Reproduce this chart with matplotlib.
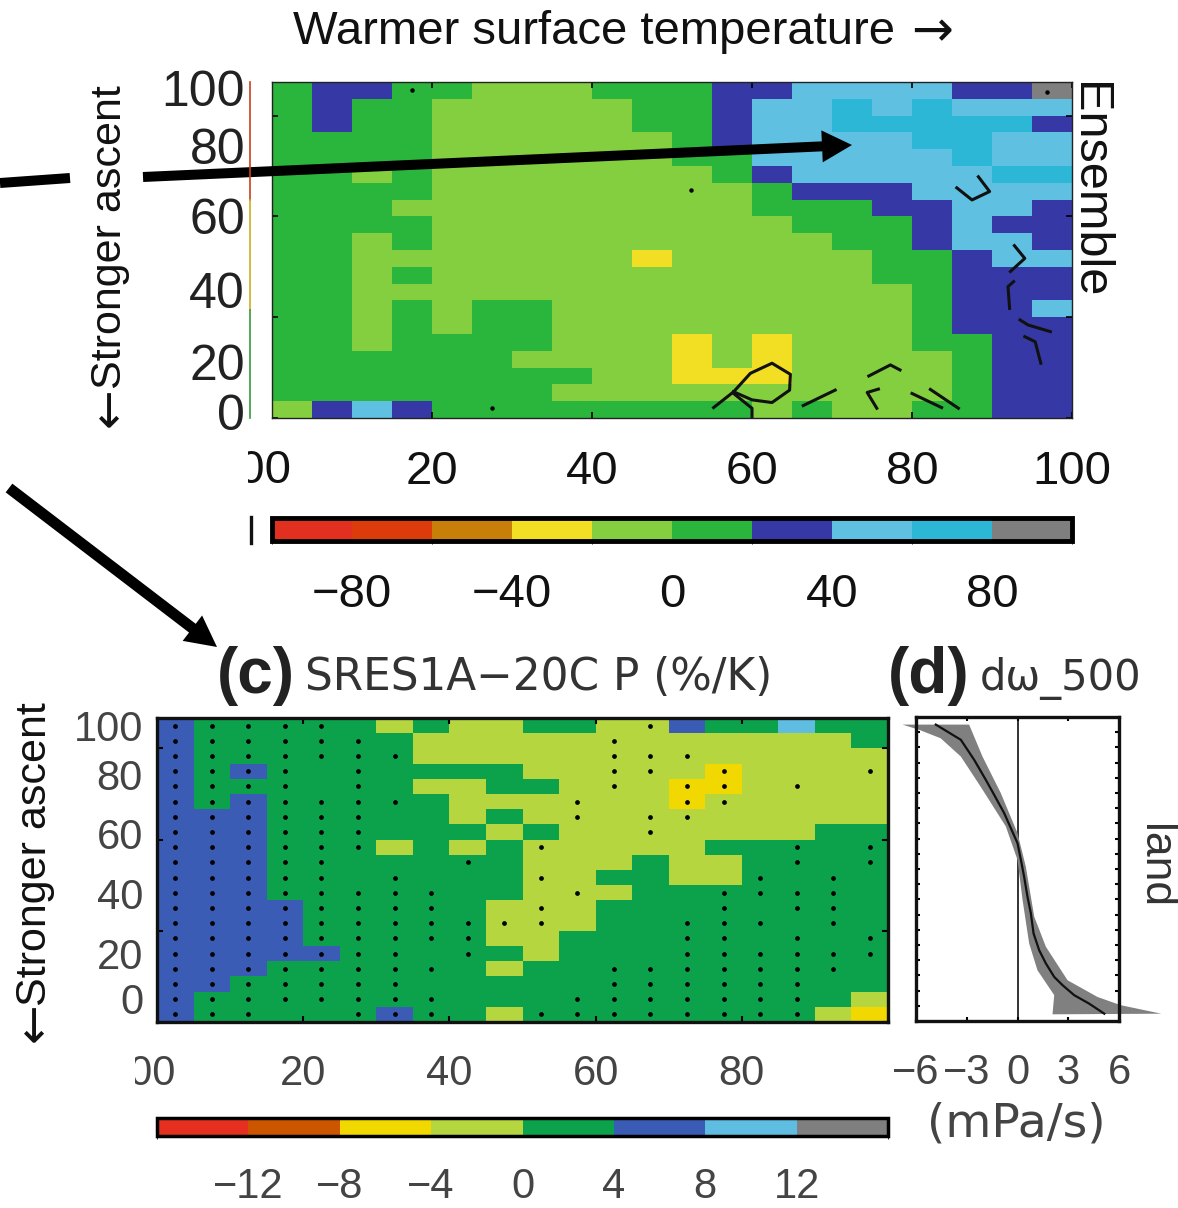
import numpy as np
import matplotlib
matplotlib.use("Agg")
import matplotlib.pyplot as plt
from matplotlib.colors import ListedColormap, BoundaryNorm
from matplotlib.patches import FancyArrow
from matplotlib.transforms import Bbox

plt.rcParams['font.family'] = ['Liberation Sans', 'DejaVu Sans']

# panel b, ensemble change in %, tens of percent (bin centre), top row first
ensemble_rows = [
    [1, 3, 3, 1, 1, -1, -1, -1, 1, 1, 1, 3, 3, 5, 5, 5, 5, 3, 3, 9],
    [1, 3, 1, 1, -1, -1, -1, -1, -1, 1, 1, 3, 5, 5, 7, 5, 7, 5, 5, 5],
    [1, 3, 1, 1, -1, -1, -1, -1, -1, 1, 1, 3, 5, 5, 7, 7, 7, 7, 7, 3],
    [1, 1, 1, 1, -1, -1, -1, -1, -1, -1, 1, 3, 5, 5, 5, 5, 7, 7, 5, 5],
    [1, 1, 1, 1, -1, -1, -1, -1, -1, -1, 1, 1, 5, 5, 5, 5, 5, 7, 5, 5],
    [1, 1, -1, 1, -1, -1, -1, -1, -1, -1, -1, 1, 3, 5, 5, 5, 5, 5, 7, 7],
    [1, 1, 1, 1, -1, -1, -1, -1, -1, -1, -1, -1, 1, 3, 3, 3, 5, 5, 5, 5],
    [1, 1, 1, -1, -1, -1, -1, -1, -1, -1, -1, -1, 1, 1, 1, 3, 3, 5, 5, 3],
    [1, 1, 1, 1, -1, -1, -1, -1, -1, -1, -1, -1, -1, 1, 1, 1, 3, 5, 3, 3],
    [1, 1, -1, 1, -1, -1, -1, -1, -1, -1, -1, -1, -1, -1, 1, 1, 3, 5, 5, 3],
    [1, 1, -1, -1, -1, -1, -1, -1, -1, -3, -1, -1, -1, -1, -1, 1, 1, 3, 5, 5],
    [1, 1, -1, 1, -1, -1, -1, -1, -1, -1, -1, -1, -1, -1, -1, 1, 1, 3, 3, 3],
    [1, 1, -1, -1, -1, -1, -1, -1, -1, -1, -1, -1, -1, -1, -1, -1, 1, 3, 3, 3],
    [1, 1, -1, 1, -1, 1, 1, -1, -1, -1, -1, -1, -1, -1, -1, -1, 1, 3, 3, 5],
    [1, 1, -1, 1, -1, 1, 1, -1, -1, -1, -1, -1, -1, -1, -1, -1, 1, 3, 3, 3],
    [1, 1, -1, 1, 1, 1, 1, -1, -1, -1, -3, -1, -3, -1, -1, -1, 1, 1, 3, 3],
    [1, 1, 1, 1, 1, 1, -1, -1, -1, -1, -3, -1, -3, -1, -1, -1, -1, 1, 3, 3],
    [1, 1, 1, 1, 1, 1, 1, 1, -1, -1, -3, -3, -3, -1, -1, -1, -1, 1, 3, 3],
    [1, 1, 1, 1, 1, 1, 1, -1, -1, -1, -1, -1, -1, -1, -1, -1, -1, 1, 3, 3],
    [-1, 3, 5, 3, 1, 1, 1, 1, 1, 1, 1, 1, -1, 1, -1, -1, 1, 1, 3, 3],
]

# panel c, SRES1A-20C P in %/K (bin centre), top row first
sres_rows = [
    [6, 2, 2, 2, 2, 2, -2, 2, -2, -2, 2, 2, -2, -2, 6, 2, 2, 10, 2, 2],
    [6, 2, 2, 2, 2, 2, 2, -2, -2, -2, -2, -2, -2, -2, -2, -2, -2, -2, -2, 2],
    [6, 2, 2, 2, 2, 2, 2, -2, -2, -2, -2, -2, -2, -2, -2, -2, -2, -2, -2, -2],
    [6, 2, 6, 2, 2, 2, 2, 2, 2, 2, -2, -2, -2, -2, -2, -6, -2, -2, -2, -2],
    [6, 2, 2, 2, 2, 2, 2, -2, -2, 2, 2, -2, -2, -2, -6, -6, -2, -2, -2, -2],
    [6, 2, 6, 2, 2, 2, 2, 2, -2, -2, -2, -2, -2, -2, -6, -2, -2, -2, -2, -2],
    [6, 6, 6, 2, 2, 2, 2, 2, -2, 2, -2, -2, -2, -2, -2, -2, -2, -2, -2, -2],
    [6, 6, 6, 2, 2, 2, 2, 2, 2, -2, 2, -2, -2, -2, -2, -2, -2, -2, 2, 2],
    [6, 6, 6, 2, 2, 2, -2, 2, -2, 2, -2, -2, -2, -2, -2, 2, 2, 2, 2, 2],
    [6, 6, 6, 2, 2, 2, 2, 2, 2, 2, -2, -2, -2, 2, -2, -2, 2, 2, 2, 2],
    [6, 6, 6, 2, 2, 2, 2, 2, 2, 2, -2, -2, 2, 2, -2, -2, 2, 2, 2, 2],
    [6, 6, 6, 2, 2, 2, 2, 2, 2, 2, -2, -2, -2, 2, 2, 2, 2, 2, 2, 2],
    [6, 6, 6, 6, 2, 2, 2, 2, 2, -2, -2, -2, 2, 2, 2, 2, 2, 2, 2, 2],
    [6, 6, 6, 6, 2, 2, 2, 2, 2, -2, -2, -2, 2, 2, 2, 2, 2, 2, 2, 2],
    [6, 6, 6, 6, 2, 2, 2, 2, 2, -2, -2, 2, 2, 2, 2, 2, 2, 2, 2, 2],
    [6, 6, 6, 6, 6, 2, 2, 2, 2, 2, -2, 2, 2, 2, 2, 2, 2, 2, 2, 2],
    [6, 6, 6, 2, 2, 2, 2, 2, 2, -2, 2, 2, 2, 2, 2, 2, 2, 2, 2, 2],
    [6, 6, 2, 2, 2, 2, 2, 2, 2, 2, 2, 2, 2, 2, 2, 2, 2, 2, 2, 2],
    [6, 2, 2, 2, 2, 2, 2, 2, 2, 2, 2, 2, 2, 2, 2, 2, 2, 2, 2, -2],
    [6, 2, 2, 2, 2, 2, 6, 2, 2, -2, 2, 2, 2, 2, 2, 2, 2, 2, -2, -6],
]

# columns with a significance dot, one list per row of panel c
sres_dots = [
    [0, 1, 2, 3, 4, 13],
    [0, 1, 2, 3, 4, 5, 12],
    [0, 1, 2, 3, 4, 5, 6, 12, 13, 14],
    [0, 1, 2, 3, 5, 12, 13, 15, 19],
    [0, 1, 2, 3, 5, 12, 14, 15, 17],
    [0, 1, 2, 3, 4, 5, 6, 11, 14, 15],
    [0, 1, 2, 3, 4, 5, 11, 13, 14],
    [0, 1, 2, 3, 4, 5, 13],
    [0, 1, 2, 3, 4, 5, 10, 17, 19],
    [0, 1, 2, 3, 4, 8, 17, 19],
    [0, 1, 2, 3, 4, 6, 10, 16, 18],
    [0, 1, 2, 3, 4, 5, 6, 7, 11, 15, 16, 17, 18],
    [0, 1, 2, 3, 4, 5, 6, 7, 10, 15, 17, 18],
    [0, 1, 2, 3, 4, 5, 6, 7, 8, 9, 10, 14, 15, 16, 18],
    [0, 1, 2, 3, 4, 5, 6, 7, 8, 14, 15, 17, 19],
    [0, 1, 2, 3, 4, 5, 6, 8, 14, 15, 16, 17, 18, 19],
    [0, 1, 2, 3, 4, 5, 6, 7, 12, 13, 14, 15, 16, 17, 18],
    [0, 1, 2, 3, 4, 5, 6, 12, 13, 14, 15, 16, 17],
    [0, 1, 2, 3, 4, 5, 6, 7, 11, 12, 13, 14, 15, 16, 17],
    [0, 1, 2, 5, 6, 7, 10, 11, 12, 13, 14, 15, 16, 17],
]

# zero contour pieces of panel b (percentile x, percentile y)
contour_x = [
    [55.2, 57.7, 59.8, 62.5, 64.8, 64.7, 62.5, 60.0, 57.7],
    [57.7, 60.0, 60.0],
    [66.4, 70.4],
    [74.6, 77.3, 78.5],
    [75.8, 74.4, 75.6],
    [80.0, 83.7],
    [82.3, 85.8],
    [88.3, 89.7, 87.5, 85.6],
    [92.8, 94.1, 92.3],
    [92.7, 92.0, 92.2],
    [93.5, 94.5, 97.3],
    [94.1, 95.4, 96.1],
]
contour_y = [
    [3.1, 7.8, 13.3, 16.3, 13.0, 8.3, 4.6, 5.4, 7.8],
    [7.3, 2.9, 0.4],
    [3.7, 8.3],
    [12.5, 15.8, 14.3],
    [8.6, 7.6, 2.9],
    [7.3, 3.1],
    [8.5, 2.9],
    [71.8, 67.4, 64.9, 68.5],
    [51.3, 47.5, 43.6],
    [40.6, 39.1, 32.6],
    [29.2, 27.7, 25.7],
    [24.2, 22.7, 16.3],
]
ens_dot_x = [52.4, 96.9, 17.5, 27.5]
ens_dot_y = [67.9, 97.0, 97.6, 3.0]

# panel d, d omega 500 against percentile
omega_pct = [97.5, 92.5, 85.9, 79.3, 74.4, 68.4, 63.4, 58.5, 53.0, 47.5, 40.9,
             35.4, 28.8, 23.3, 18.9, 14.5, 11.8, 8.5, 5.7, 2.4]
omega_mean = [-4.83, -3.35, -2.56, -1.87, -1.38, -0.79, -0.39, 0.0, 0.2, 0.39, 0.59,
              0.79, 0.95, 1.28, 1.68, 2.17, 2.66, 3.35, 4.24, 5.13]
band_x = [-6.8, -2.86, -2.07, -0.99, 0.0, 0.49, 0.99, 1.68, 2.96, 4.73, 6.1, 8.5,
          2.07, 2.17, 1.18, 0.69, 0.3, 0.0, -0.69, -2.17, -3.35, -4.54, -5.82]
band_y = [97.5, 97.5, 87.0, 75.0, 61.8, 50.8, 34.3, 24.4, 13.4, 7.9, 5.2, 2.4,
          2.2, 8.5, 16.7, 25.5, 39.8, 53.0, 64.0, 77.0, 87.0, 93.0, 95.8]

ens_colors = ['#e1301f', '#dd3b0b', '#c77f0a', '#f2de22', '#84cf3f',
              '#2ab53c', '#3639a5', '#5fc0e2', '#2db7d6', '#807f80']
ens_bounds = np.arange(-100, 101, 20)
sres_colors = ['#e5301f', '#cc5500', '#f0d800', '#b5d63f',
               '#0ca24c', '#3b5cb4', '#5ebde0', '#7f7f7f']
sres_bounds = np.arange(-16, 17, 4)

W, H = 1178, 1208


def px_axes(x0, y0, x1, y1):
    return fig.add_axes([x0 / W, 1 - y1 / H, (x1 - x0) / W, (y1 - y0) / H])


fig = plt.figure(figsize=(W / 100, H / 100), dpi=100)

# panel b
ax1 = px_axes(272, 82, 1072, 418)
edges = np.arange(0, 101, 5)
ens_vals = np.array(ensemble_rows)[::-1] * 10
ens_norm = BoundaryNorm(ens_bounds, len(ens_colors))
ens_mesh = ax1.pcolormesh(edges, edges, ens_vals, cmap=ListedColormap(ens_colors), norm=ens_norm)
for cx, cy in zip(contour_x, contour_y):
    ax1.plot(cx, cy, color='#111111', lw=2.2)
ax1.plot(ens_dot_x, ens_dot_y, 'o', color='k', ms=2.2, ls='none')
ax1.set_xlim(0, 100)
ax1.set_ylim(0, 100)
ax1.set_xticks([20, 40, 60, 80, 100], ['20', '40', '60', '80', '100'])
ax1.set_yticks([0, 30, 60, 90], [])
ax1.tick_params(direction='in', length=4, width=1.2, top=True, right=True, pad=23, labelsize=34, labelcolor='#111111')
for s in ax1.spines.values():
    s.set_linewidth(1.0)
    s.set_color('#222222')

cax1 = px_axes(272, 518, 1072, 541)
cb1 = fig.colorbar(ens_mesh, cax=cax1, orientation='horizontal', ticks=[-80, -40, 0, 40, 80])
cb1.ax.set_xticklabels(['\u221280', '\u221240', '0', '40', '80'])
cb1.ax.tick_params(length=0, pad=23, labelsize=34, labelcolor='#111111')
cb1.outline.set_linewidth(3.5)

# panel c
ax2 = px_axes(157, 718, 888, 1022)
sres_vals = np.array(sres_rows)[::-1]
sres_norm = BoundaryNorm(sres_bounds, len(sres_colors))
sres_mesh = ax2.pcolormesh(edges, edges, sres_vals, cmap=ListedColormap(sres_colors), norm=sres_norm)
dot_x, dot_y = [], []
for r, cols in enumerate(sres_dots):
    for c in cols:
        dot_x.append(edges[c] + 2.5)
        dot_y.append(97.5 - 5 * r)
ax2.plot(dot_x, dot_y, 'o', color='k', ms=2.4, ls='none')
ax2.set_xlim(0, 100)
ax2.set_ylim(0, 100)
ax2.set_xticks([20, 40, 60, 80], ['20', '40', '60', '80'])
ax2.set_yticks([0, 30, 60, 90], [])
ax2.tick_params(direction='in', length=4, width=1.5, top=True, right=True, pad=23, labelsize=30, labelcolor='#444444')
for s in ax2.spines.values():
    s.set_linewidth(2.4)
    s.set_color('#111111')

cax2 = px_axes(157, 1118, 888, 1136)
cb2 = fig.colorbar(sres_mesh, cax=cax2, orientation='horizontal', ticks=[-12, -8, -4, 0, 4, 8, 12])
cb2.ax.set_xticklabels(['\u221212', '\u22128', '\u22124', '0', '4', '8', '12'])
cb2.ax.tick_params(length=0, pad=22, labelsize=30, labelcolor='#444444')
cb2.outline.set_linewidth(2.5)

# panel d
ax3 = px_axes(916, 717, 1119, 1021)
ax3.fill(band_x, band_y, color='#808080', lw=0, clip_on=False, zorder=2)
ax3.plot(omega_mean, omega_pct, color='#111111', lw=1.6, zorder=3)
ax3.axvline(0, color='#111111', lw=1.2, zorder=1)
ax3.set_xlim(-6, 6)
ax3.set_ylim(0, 100)
ax3.set_xticks([-6, -3, 0, 3, 6], ['\u22126', '\u22123', '0', '3', '6'])
ax3.set_yticks(np.arange(5, 100, 5), [])
ax3.tick_params(direction='in', length=3, width=1.5, right=True, top=True, pad=23, labelsize=30, labelcolor='#444444')
for s in ax3.spines.values():
    s.set_linewidth(2.4)
    s.set_color('#111111')

# pasted-figure overlay in pixel coordinates: labels and arrows
ov = fig.add_axes([0, 0, 1, 1], facecolor='none')
ov.set_xlim(0, W)
ov.set_ylim(H, 0)
ov.axis('off')

ov.text(895, 32, 'Warmer surface temperature', fontsize=34, ha='right', va='center', color='#111111')
ov.text(932, 32, '\u2192', fontsize=36, family=['DejaVu Sans'], ha='center', va='center', color='#111111')
for xp, top, arrow_y in [(110, 85, 407), (35, 702, 1022)]:
    ov.text(xp, top, 'Stronger ascent', fontsize=31, rotation=90, ha='center', va='top', color='#111111')
    ov.text(xp, arrow_y, '\u2190', fontsize=34, rotation=90, family=['DejaVu Sans'], ha='center', va='center', color='#111111')
ov.text(1089, 190, 'Ensemble', fontsize=35, rotation=270, ha='center', va='center', color='#111111')
ov.text(1154, 866, 'land', fontsize=32, rotation=270, ha='center', va='center', color='#333333')

for lab, yp in zip(['100', '80', '60', '40', '20', '0'], [93, 151, 221, 295, 367, 417]):
    ov.text(245, yp, lab, fontsize=36, ha='right', va='center', color='#222222')
for lab, yp in zip(['100', '80', '60', '40', '20', '0'], [730, 779, 838, 898, 958, 1003]):
    ov.text(143, yp, lab, fontsize=30, ha='right', va='center', color='#444444')

# x labels cut off by the crop of the neighbouring panel
t = ov.text(252, 471, '100', fontsize=34, ha='center', va='center', color='#111111', clip_on=True)
t.set_clip_box(Bbox([[248, 0], [400, H]]))
t = ov.text(142, 1074, '100', fontsize=30, ha='center', va='center', color='#444444', clip_on=True)
t.set_clip_box(Bbox([[135, 0], [300, H]]))

ov.text(256, 676, '(c)', fontsize=46, fontweight='bold', ha='center', va='center', color='#222222')
ov.text(539, 678, 'SRES1A\u221220C P (%/K)', fontsize=31.5, family=['DejaVu Sans'], ha='center', va='center', color='#333333')
ov.text(929, 676, '(d)', fontsize=46, fontweight='bold', ha='center', va='center', color='#222222')
ov.text(1061, 678, 'd\u03c9_500', fontsize=30, family=['DejaVu Sans'], ha='center', va='center', color='#333333')
ov.text(1016, 1124, '(mPa/s)', fontsize=34, family=['DejaVu Sans'], ha='center', va='center', color='#444444')

# leftovers of the neighbouring panel at the crop edge
ov.plot([250, 250], [82, 200], color='#c8401c', lw=1.2)
ov.plot([250, 250], [200, 310], color='#c8b020', lw=1.2)
ov.plot([250, 250], [310, 418], color='#3a9a3c', lw=1.2)
ov.plot([251, 251], [517, 543], color='#111111', lw=2.4)

ov.add_patch(FancyArrow(0, 183, 70, -5, width=10, head_width=0, head_length=0, color='k', lw=0))
ov.add_patch(FancyArrow(143, 177, 709, -32, width=10, head_width=32, head_length=30,
                        length_includes_head=True, color='k', lw=0))
ov.add_patch(FancyArrow(9, 488, 208, 159, width=11, head_width=32, head_length=31,
                        length_includes_head=True, color='k', lw=0))

fig.savefig('out.png', dpi=100)
